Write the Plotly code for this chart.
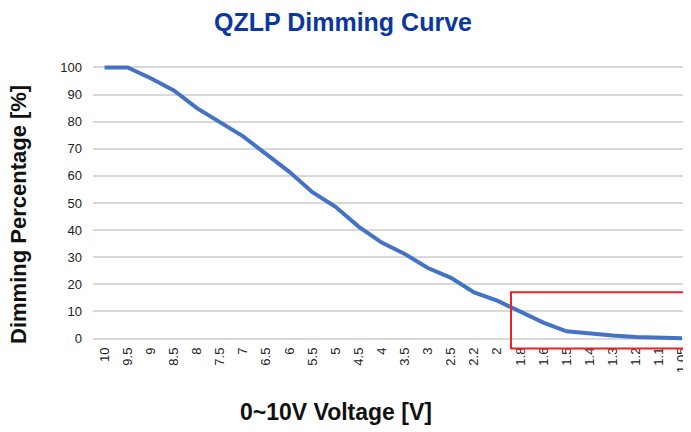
import plotly.graph_objects as go

voltage_labels = ["10", "9.5", "9", "8.5", "8", "7.5", "7", "6.5", "6", "5.5", "5", "4.5", "4",
                  "3.5", "3", "2.5", "2.2", "2", "1.8", "1.6", "1.5", "1.4", "1.3", "1.2", "1.1", "1.05"]
dimming_pct = [100, 100, 96, 91.5, 85, 80, 74.6, 68, 61.5, 54, 48.6, 41.3, 35.4,
               31.2, 26, 22.4, 17, 14, 10, 5.9, 2.7, 1.8, 1.1, 0.6, 0.3, 0.1]
y_ticks = [0, 10, 20, 30, 40, 50, 60, 70, 80, 90, 100]

# page body has an 8px margin: figure sized to fill the remaining window
OFF = 8
W, H = 691 - OFF, 432 - OFF
ml = 93 - OFF
mr = 0
mt = 61.6 - OFF
mb = H - (344.4 - OFF)

fig = go.Figure()
fig.add_trace(go.Scatter(
    x=list(range(len(voltage_labels))), y=dimming_pct, mode="lines",
    line=dict(color="#4472C4", width=4), showlegend=False, hoverinfo="skip"))

plot_w = W - ml - mr
plot_h = H - mt - mb


def px(x):
    return (x - OFF - ml) / plot_w


def py(y):
    return (H - mb - (y - OFF)) / plot_h


# red highlight box
fig.add_shape(type="rect", xref="paper", yref="paper",
              x0=px(511), x1=1.02, y0=py(349), y1=py(292.5),
              line=dict(color="#E8232A", width=2), fillcolor="rgba(0,0,0,0)")

title_font = "Liberation Sans, Arial, sans-serif"
fig.add_annotation(text="<b>0~10V Voltage [V]</b>", xref="paper", yref="paper",
                   x=px(336), y=py(413), xanchor="center", yanchor="middle", showarrow=False,
                   font=dict(family=title_font, size=23, color="#111"))
fig.add_annotation(text="<b>Dimming Percentage [%]</b>", xref="paper", yref="paper",
                   x=px(19), y=py(215), textangle=-90,
                   xanchor="center", yanchor="middle", showarrow=False,
                   font=dict(family=title_font, size=22, color="#111"))

fig.update_layout(
    width=W, height=H,
    margin=dict(l=ml, r=mr, t=mt, b=mb, autoexpand=False),
    paper_bgcolor="white", plot_bgcolor="white",
    title=dict(text="<b>QZLP Dimming Curve</b>", x=(343 - OFF) / W, xref="container", xanchor="center",
               y=1 - (22 - OFF) / H, yref="container", yanchor="middle",
               font=dict(family=title_font, size=25, color="#0A38A0")),
    xaxis=dict(
        tickmode="array", tickvals=list(range(len(voltage_labels))), ticktext=voltage_labels,
        range=[-0.5, 25.39], tickangle=-90, showgrid=False, zeroline=False, showline=False,
        ticks="", automargin=False,
        tickfont=dict(family="Liberation Sans, Arial, sans-serif", size=13, color="#222"),
    ),
    yaxis=dict(
        range=[-2, 102], tickvals=y_ticks, showgrid=True, gridcolor="#D9D9D9", gridwidth=1.5,
        zeroline=False, showline=False, ticks="", ticklabelstandoff=10, automargin=False,
        tickfont=dict(family="Liberation Sans, Arial, sans-serif", size=13, color="#222"),
    ),
)

fig.write_html("out.html")
